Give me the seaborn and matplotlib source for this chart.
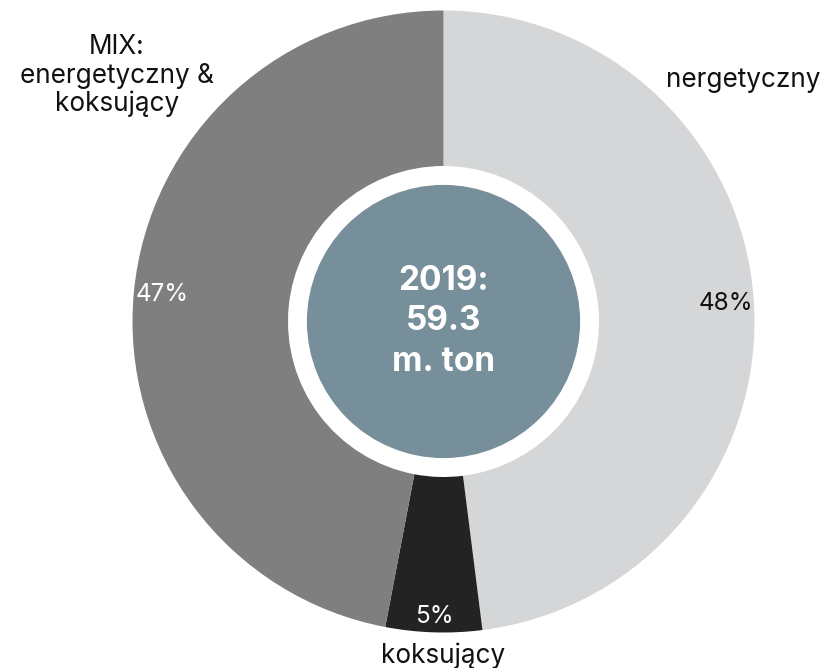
import matplotlib
matplotlib.use("Agg")
import matplotlib.pyplot as plt
import seaborn as sns
from matplotlib.patches import Circle

# Coal production by type, 2019 (share in %)
labels = ["nergetyczny", "koksujący", "MIX:\nenergetyczny &\nkoksujący"]
shares = [48, 5, 47]
colors = ["#d5d6d8", "#232323", "#7f7f7f"]
pct_colors = ["#111111", "#ffffff", "#ffffff"]
center_text = "2019:\n59.3\nm. ton"

sns.set_theme(style="white")
plt.rcParams["font.family"] = ["Inter", "DejaVu Sans"]

fig = plt.figure(figsize=(8.25, 6.68), dpi=100)
ax = fig.add_axes([0, 0, 1, 1])

wedges, texts, autotexts = ax.pie(
    shares,
    colors=colors,
    startangle=90,
    counterclock=False,
    radius=1,
    wedgeprops=dict(width=0.5, linewidth=0),
    autopct="%d%%",
    pctdistance=0.91,
    textprops=dict(fontsize=17.5),
)
for t, c in zip(autotexts, pct_colors):
    t.set_color(c)
# small slice label sits a bit closer to the rim
x, y = autotexts[1].get_position()
autotexts[1].set_position((x * 0.95 / 0.91, y * 0.95 / 0.91))

# center disc
ax.add_patch(Circle((0, 0), 0.437, color="#778f9a", zorder=5))
ax.text(0, 0, center_text, ha="center", va="center", color="white",
        fontsize=24, fontweight="bold", linespacing=1.35, zorder=6)

# outer labels
label_pos = [(0.963, 0.777), (0.0, -1.075), (-1.05, 0.79)]
for lab, (lx, ly) in zip(labels, label_pos):
    ax.text(lx, ly, lab, ha="center", va="center", fontsize=18.8,
            color="#111111", linespacing=1.12)

ax.set_aspect("auto")
ax.set_xlim(-443.5 / 311, (825 - 443.5) / 311)
ax.set_ylim(-(668 - 321.5) / 311, 321.5 / 311)
ax.axis("off")

fig.savefig("out.png", dpi=100)
